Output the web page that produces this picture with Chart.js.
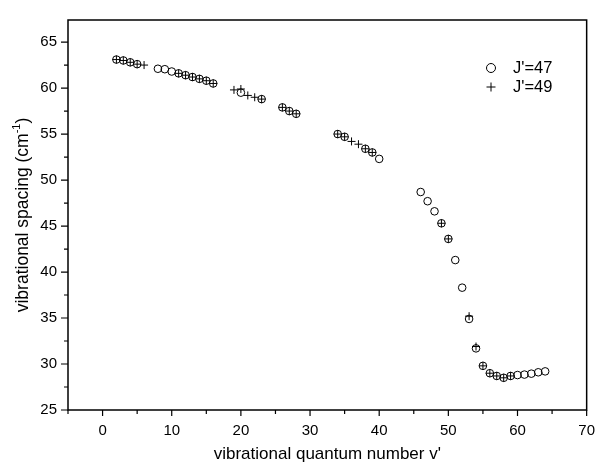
<!DOCTYPE html>
<html>
<head>
<meta charset="utf-8">
<script src="https://cdn.jsdelivr.net/npm/chart.js@4.4.0/dist/chart.umd.min.js"></script>
<style>
  html, body { margin: 0; padding: 0; background: #fff; }
</style>
</head>
<body>
<canvas id="spacing" width="607" height="463"></canvas>
<script>
// J'=47 - open circles
var v47 = [2, 3, 4, 5, 8, 9, 10, 11, 12, 13, 14, 15, 16, 20, 23, 26, 27, 28, 34, 35, 38, 39, 40,
  46, 47, 48, 49, 50, 51, 52, 53, 54, 55, 56, 57, 58, 59, 60, 61, 62, 63, 64];
var spacing47 = [63.1, 63.0, 62.8, 62.6, 62.1, 62.05, 61.8, 61.6, 61.4, 61.2, 61.0, 60.8, 60.5, 59.5, 58.8, 57.9, 57.5, 57.2, 55.0, 54.7, 53.4, 53.0, 52.3,
  48.7, 47.7, 46.6, 45.3, 43.6, 41.3, 38.3, 34.9, 31.7, 29.8, 29.0, 28.7, 28.5, 28.7, 28.8, 28.85, 28.95, 29.1, 29.2];

// J'=49 - crosses
var v49 = [2, 3, 4, 5, 6, 11, 12, 13, 14, 15, 16, 19, 20, 21, 22, 23, 26, 27, 28, 34, 35, 36, 37, 38, 39,
  49, 50, 53, 54, 55, 56, 57, 58, 59];
var spacing49 = [63.1, 63.0, 62.8, 62.6, 62.5, 61.6, 61.4, 61.2, 61.0, 60.8, 60.5, 59.8, 59.9, 59.2, 59.0, 58.8, 57.9, 57.5, 57.2, 55.0, 54.7, 54.2, 53.9, 53.4, 53.0,
  45.3, 43.6, 35.2, 31.9, 29.8, 29.0, 28.7, 28.5, 28.7];

var xTicks = [0, 10, 20, 30, 40, 50, 60, 70];
var xMinor = [-5, 5, 15, 25, 35, 45, 55, 65];
var yTicks = [25, 30, 35, 40, 45, 50, 55, 60, 65];
var yMinor = [27.5, 32.5, 37.5, 42.5, 47.5, 52.5, 57.5, 62.5];

var FONT = '"Liberation Sans", Arial, sans-serif';

function toPoints(xs, ys) {
  return xs.map(function(x, i) { return { x: x, y: ys[i] }; });
}

// frame, outward ticks, axis titles and legend
var framePlugin = {
  id: 'frame',
  afterDraw: function(chart) {
    var ctx = chart.ctx;
    var a = chart.chartArea;
    var xs = chart.scales.x, ys = chart.scales.y;
    ctx.save();
    ctx.strokeStyle = '#000';
    ctx.lineWidth = 1.5;
    ctx.strokeRect(a.left, a.top, a.right - a.left, a.bottom - a.top);

    ctx.lineWidth = 1.2;
    ctx.beginPath();
    xTicks.forEach(function(v) {
      var px = xs.getPixelForValue(v);
      ctx.moveTo(px, a.bottom); ctx.lineTo(px, a.bottom + 6);
    });
    xMinor.forEach(function(v) {
      var px = xs.getPixelForValue(v);
      ctx.moveTo(px, a.bottom); ctx.lineTo(px, a.bottom + 4);
    });
    yTicks.forEach(function(v) {
      var py = ys.getPixelForValue(v);
      ctx.moveTo(a.left, py); ctx.lineTo(a.left - 7, py);
    });
    yMinor.forEach(function(v) {
      var py = ys.getPixelForValue(v);
      ctx.moveTo(a.left, py); ctx.lineTo(a.left - 4, py);
    });
    ctx.stroke();

    // axis titles
    ctx.fillStyle = '#000';
    ctx.font = '17px ' + FONT;
    ctx.textAlign = 'center';
    ctx.textBaseline = 'alphabetic';
    ctx.fillText("vibrational quantum number v'", (a.left + a.right) / 2, 459);

    ctx.save();
    ctx.translate(28, (a.top + a.bottom) / 2);
    ctx.rotate(-Math.PI / 2);
    var main = 'vibrational spacing (cm';
    var sup = '-1';
    ctx.font = '17.5px ' + FONT;
    var wMain = ctx.measureText(main).width;
    var wClose = ctx.measureText(')').width;
    ctx.font = '11px ' + FONT;
    var wSup = ctx.measureText(sup).width;
    var x0 = -(wMain + wSup + wClose) / 2;
    ctx.textAlign = 'left';
    ctx.font = '17.5px ' + FONT;
    ctx.fillText(main, x0, 0);
    ctx.font = '11px ' + FONT;
    ctx.fillText(sup, x0 + wMain, -8);
    ctx.font = '17.5px ' + FONT;
    ctx.fillText(')', x0 + wMain + wSup, 0);
    ctx.restore();

    // legend
    ctx.lineWidth = 1;
    ctx.beginPath();
    ctx.arc(491, 68, 4.5, 0, Math.PI * 2);
    ctx.stroke();
    ctx.beginPath();
    ctx.moveTo(486.5, 87); ctx.lineTo(495.5, 87);
    ctx.moveTo(491, 82.5); ctx.lineTo(491, 91.5);
    ctx.stroke();
    ctx.font = '16.5px ' + FONT;
    ctx.textAlign = 'left';
    ctx.textBaseline = 'middle';
    ctx.fillText("J'=47", 513, 68);
    ctx.fillText("J'=49", 513, 87);
    ctx.restore();
  }
};

new Chart(document.getElementById('spacing'), {
  type: 'scatter',
  data: {
    datasets: [
      {
        label: "J'=47",
        data: toPoints(v47, spacing47),
        pointStyle: 'circle',
        pointRadius: 3.8,
        pointBorderWidth: 1,
        pointBorderColor: '#000',
        pointBackgroundColor: 'rgba(0,0,0,0)'
      },
      {
        label: "J'=49",
        data: toPoints(v49, spacing49),
        pointStyle: 'cross',
        pointRadius: 4,
        pointBorderWidth: 1,
        pointBorderColor: '#000'
      }
    ]
  },
  options: {
    responsive: false,
    animation: false,
    layout: { padding: { top: 2, right: 9, left: 0, bottom: 0 } },
    plugins: {
      legend: { display: false },
      tooltip: { enabled: false }
    },
    scales: {
      x: {
        type: 'linear',
        min: -5,
        max: 70,
        afterBuildTicks: function(scale) {
          scale.ticks = xTicks.map(function(v) { return { value: v }; });
        },
        afterFit: function(scale) { scale.height = 53; },
        grid: { display: false, drawTicks: false },
        border: { display: false },
        ticks: { color: '#000', padding: 12, font: { family: FONT, size: 15 }, maxRotation: 0 }
      },
      y: {
        type: 'linear',
        min: 25,
        max: 67.4,
        afterBuildTicks: function(scale) {
          scale.ticks = yTicks.map(function(v) { return { value: v }; });
        },
        afterFit: function(scale) { scale.width = 68; },
        grid: { display: false, drawTicks: false },
        border: { display: false },
        ticks: { color: '#000', padding: 11, font: { family: FONT, size: 15 } }
      }
    }
  },
  plugins: [framePlugin]
});
</script>
</body>
</html>
